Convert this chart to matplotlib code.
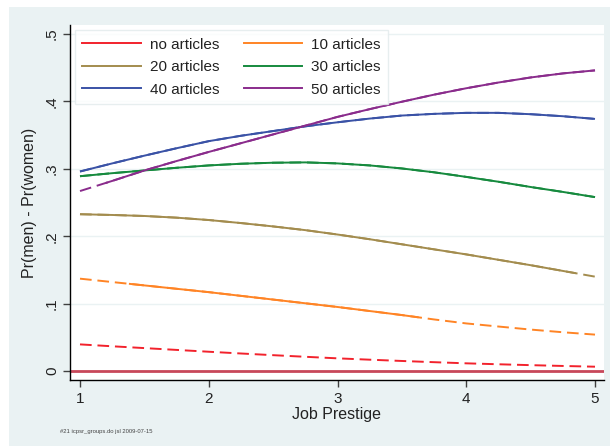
import numpy as np
import matplotlib
matplotlib.use("Agg")
from matplotlib import pyplot as plt
from matplotlib.patches import Rectangle

plt.rcParams['font.family'] = ['Liberation Sans', 'DejaVu Sans']

# predicted difference Pr(men) - Pr(women) by job prestige
prestige = [1.0, 1.25, 1.5, 1.75, 2.0, 2.25, 2.5, 2.75, 3.0,
            3.25, 3.5, 3.75, 4.0, 4.25, 4.5, 4.75, 5.0]

art0  = [.0395, .0367, .0340, .0313, .0286, .0260, .0235, .0211, .0188,
         .0168, .0149, .0131, .0114, .0100, .0087, .0075, .0064]
art10 = [.137, .132, .127, .122, .117, .1115, .106, .1005, .095,
         .089, .083, .0765, .0706, .066, .0615, .0575, .054]
art20 = [.2326, .2315, .230, .2275, .224, .2195, .2145, .209, .2025,
         .1955, .188, .1805, .173, .165, .157, .1485, .140]
art30 = [.289, .2935, .2975, .3015, .305, .3075, .309, .3095, .308,
         .305, .3005, .2948, .288, .2808, .273, .2657, .258]
art40 = [.296, .308, .3195, .3305, .341, .349, .356, .363, .369,
         .3745, .379, .3815, .383, .383, .381, .378, .374]
art50 = [.267, .282, .2975, .3115, .325, .338, .351, .364, .377,
         .3885, .3995, .410, .4195, .428, .4355, .4415, .446]

labels = ["no articles", "10 articles", "20 articles",
          "30 articles", "40 articles", "50 articles"]
# prestige range over which the difference is significant (None = never)
sig_range = [None, (1.38, 3.63), (1.0, 4.85), (1.0, 5.0), (1.0, 5.0), (1.2, 5.0)]
colors = ["#F2222C", "#FF8425", "#A38C4E", "#168A3E", "#3A52A6", "#8A2C8C"]

yticks = [0, .1, .2, .3, .4, .5]
ytick_labels = ["0", ".1", ".2", ".3", ".4", ".5"]
xticks = [1, 2, 3, 4, 5]

bg = "#EAF2F3"

fig = plt.figure(figsize=(6.1, 4.47), dpi=100)
fig.patches.append(Rectangle((9/610, 1/447), 601/610, 439/447, transform=fig.transFigure,
                             facecolor=bg, edgecolor="none", zorder=-10))
ax = fig.add_axes([70/610, 1-380/447, 534/610, 355/447])
ax.set_facecolor("white")

ax.axhline(0, color="#C8485A", lw=2.0, zorder=1)


def split_line(x, y, lo, hi):
    x = np.asarray(x); y = np.asarray(y)
    inner = (x > lo) & (x < hi)
    xs = np.concatenate([[lo], x[inner], [hi]])
    ys = np.concatenate([[np.interp(lo, x, y)], y[inner], [np.interp(hi, x, y)]])
    return xs, ys


series = [art0, art10, art20, art30, art40, art50]
handles = []
for vals, lab, sr, c in zip(series, labels, sig_range, colors):
    x = np.asarray(prestige); y = np.asarray(vals)
    # dashed everywhere, solid on top where significant
    ax.plot(x, y, color=c, lw=1.4, dashes=(6, 3), zorder=3)
    if sr is not None:
        xs, ys = split_line(x, y, *sr)
        ax.plot(xs, ys, color=c, lw=1.4, zorder=4, solid_capstyle="butt")
    h, = ax.plot([], [], color=c, lw=1.4, label=lab)
    handles.append(h)

ax.set_xlim(1 - 10/128.75, 5 + 9/128.75)
ax.set_ylim(-9/675, 0.5 + 9/675)
ax.set_xticks(xticks)
ax.set_yticks(yticks)
ax.set_yticklabels(ytick_labels, rotation=90, va="center")
ax.grid(axis="y", color=bg, lw=1.0, zorder=0)
ax.set_axisbelow(True)

for s in ["top", "right"]:
    ax.spines[s].set_visible(False)
for s in ["left", "bottom"]:
    ax.spines[s].set_color("black")
    ax.spines[s].set_linewidth(1.0)
ax.tick_params(axis="both", direction="out", length=5, width=1, color="#404040",
               labelsize=11, labelcolor="#222222")
ax.tick_params(axis="y", pad=3)

ax.set_xlabel("Job Prestige", fontsize=11.5, color="#222222", labelpad=1)
ax.set_ylabel("Pr(men) - Pr(women)", fontsize=11.5, color="#222222", labelpad=6)

# row-major legend order: two entries per row
order = [0, 2, 4, 1, 3, 5]
leg = ax.legend(handles=[handles[i] for i in order], ncol=2, loc="upper left",
                bbox_to_anchor=(0.009, 0.986),
                fontsize=11, frameon=True, fancybox=False, handlelength=3.8,
                handletextpad=0.6, columnspacing=1.6, labelspacing=0.56,
                borderpad=0.5, borderaxespad=0)
leg.get_frame().set_edgecolor("#E2EAEC")
leg.get_frame().set_linewidth(1.0)
for t in leg.get_texts():
    t.set_color("#222222")

fig.text(60/610, 1-431/447, "#21 icpsr_groups.do jsl 2009-07-15", fontsize=4.2,
         color="#444444", va="center", ha="left")

fig.savefig("out.png", dpi=100, facecolor="white")
